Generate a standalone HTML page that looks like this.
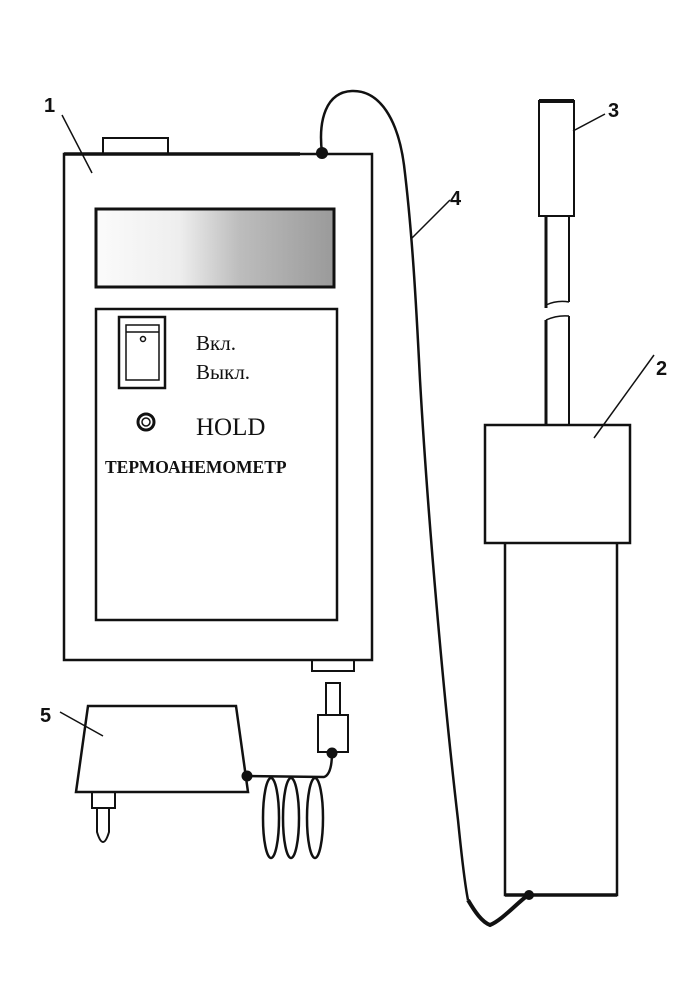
<!DOCTYPE html>
<html><head><meta charset="utf-8"><style>
html,body{margin:0;padding:0;background:#fff;}
svg{display:block;}
</style></head><body>
<svg width="691" height="994" viewBox="0 0 691 994" xmlns="http://www.w3.org/2000/svg">
<defs>
<linearGradient id="g" x1="0" x2="1" y1="0" y2="0">
<stop offset="0" stop-color="#fbfbfb"/><stop offset="0.35" stop-color="#eeeeee"/><stop offset="0.6" stop-color="#bdbdbd"/><stop offset="1" stop-color="#9a9a9a"/>
</linearGradient>
</defs>
<g fill="none" stroke="#111" stroke-width="2.5">
<rect x="103" y="138" width="65" height="16" stroke-width="2"/>
<rect x="64" y="154" width="308" height="506"/>
<line x1="64" y1="154" x2="300" y2="154" stroke-width="3.5"/>
<rect x="96" y="209" width="238" height="78" fill="url(#g)" stroke-width="3"/>
<rect x="96" y="309" width="241" height="311"/>
<rect x="119" y="317" width="46" height="71"/>
<rect x="126" y="325" width="33" height="55" stroke-width="1.5"/>
<line x1="126" y1="332" x2="159" y2="332" stroke-width="1.5"/>
<circle cx="143" cy="339" r="2.5" stroke-width="1.5"/>
<circle cx="146" cy="422" r="8" stroke-width="3"/>
<circle cx="146" cy="422" r="4" stroke-width="1.5"/>
<rect x="312" y="660" width="42" height="11" stroke-width="2"/>
<rect x="326" y="683" width="14" height="32" stroke-width="2"/>
<rect x="318" y="715" width="30" height="37" stroke-width="2"/>
<path d="M88 706 L236 706 L248 792 L76 792 Z"/>
<rect x="92" y="792" width="23" height="16" stroke-width="2"/>
<path d="M97 808 L97 832 Q103 852 109 832 L109 808" stroke-width="2"/>
<path d="M247 776 L324 777 C330 775 332 765 332 752" stroke-width="2.5"/>
<ellipse cx="271" cy="818" rx="8" ry="40" stroke-width="2.5"/>
<ellipse cx="291" cy="818" rx="8" ry="40" stroke-width="2.5"/>
<ellipse cx="315" cy="818" rx="8" ry="40" stroke-width="2.5"/>
<path d="M322 153 C318 120 326 92 352 91 C380 90 398 120 404 165 C412 230 416 300 420 380 C428 520 444 700 458 820 C462 860 466 890 468 900" stroke-width="2.5"/>
<path d="M468 900 C475 912 482 922 490 925 C502 920 515 905 528 895" stroke-width="4"/>
<rect x="539" y="101" width="35" height="115" stroke-width="2"/>
<line x1="539" y1="101" x2="574" y2="101" stroke-width="4"/>
<line x1="546" y1="217" x2="546" y2="308" stroke-width="3"/>
<line x1="569" y1="217" x2="569" y2="302" stroke-width="2"/>
<path d="M546 305 Q557 300 569 302" stroke-width="1.5"/>
<path d="M546 320 Q557 315 569 316" stroke-width="1.5"/>
<line x1="546" y1="320" x2="546" y2="425" stroke-width="3"/>
<line x1="569" y1="316" x2="569" y2="425" stroke-width="2"/>
<rect x="485" y="425" width="145" height="118"/>
<path d="M505 543 L505 895 L617 895 L617 543"/>
<line x1="505" y1="895" x2="617" y2="895" stroke-width="3.5"/>
<line x1="62" y1="115" x2="92" y2="173" stroke-width="1.5"/>
<line x1="60" y1="712" x2="103" y2="736" stroke-width="1.5"/>
<line x1="412" y1="238" x2="450" y2="200" stroke-width="1.5"/>
<line x1="573" y1="131" x2="605" y2="114" stroke-width="1.5"/>
<line x1="594" y1="438" x2="654" y2="355" stroke-width="1.5"/>
</g>
<g fill="#111">
<circle cx="322" cy="153" r="6"/>
<circle cx="332" cy="753" r="5.5"/>
<circle cx="247" cy="776" r="5.5"/>
<circle cx="529" cy="895" r="5"/>
</g>
<g font-family="Liberation Sans, sans-serif" font-weight="bold" font-size="20" fill="#111">
<text x="44" y="112">1</text>
<text x="40" y="722">5</text>
<text x="450" y="205">4</text>
<text x="608" y="117">3</text>
<text x="656" y="375">2</text>
</g>
<g font-family="Liberation Serif, serif" fill="#111">
<text x="196" y="350" font-size="21">Вкл.</text>
<text x="196" y="379" font-size="21">Выкл.</text>
<text x="196" y="435" font-size="25">HOLD</text>
<text x="105" y="473" font-size="17.5" font-weight="bold">ТЕРМОАНЕМОМЕТР</text>
</g>
</svg>
</body></html>
